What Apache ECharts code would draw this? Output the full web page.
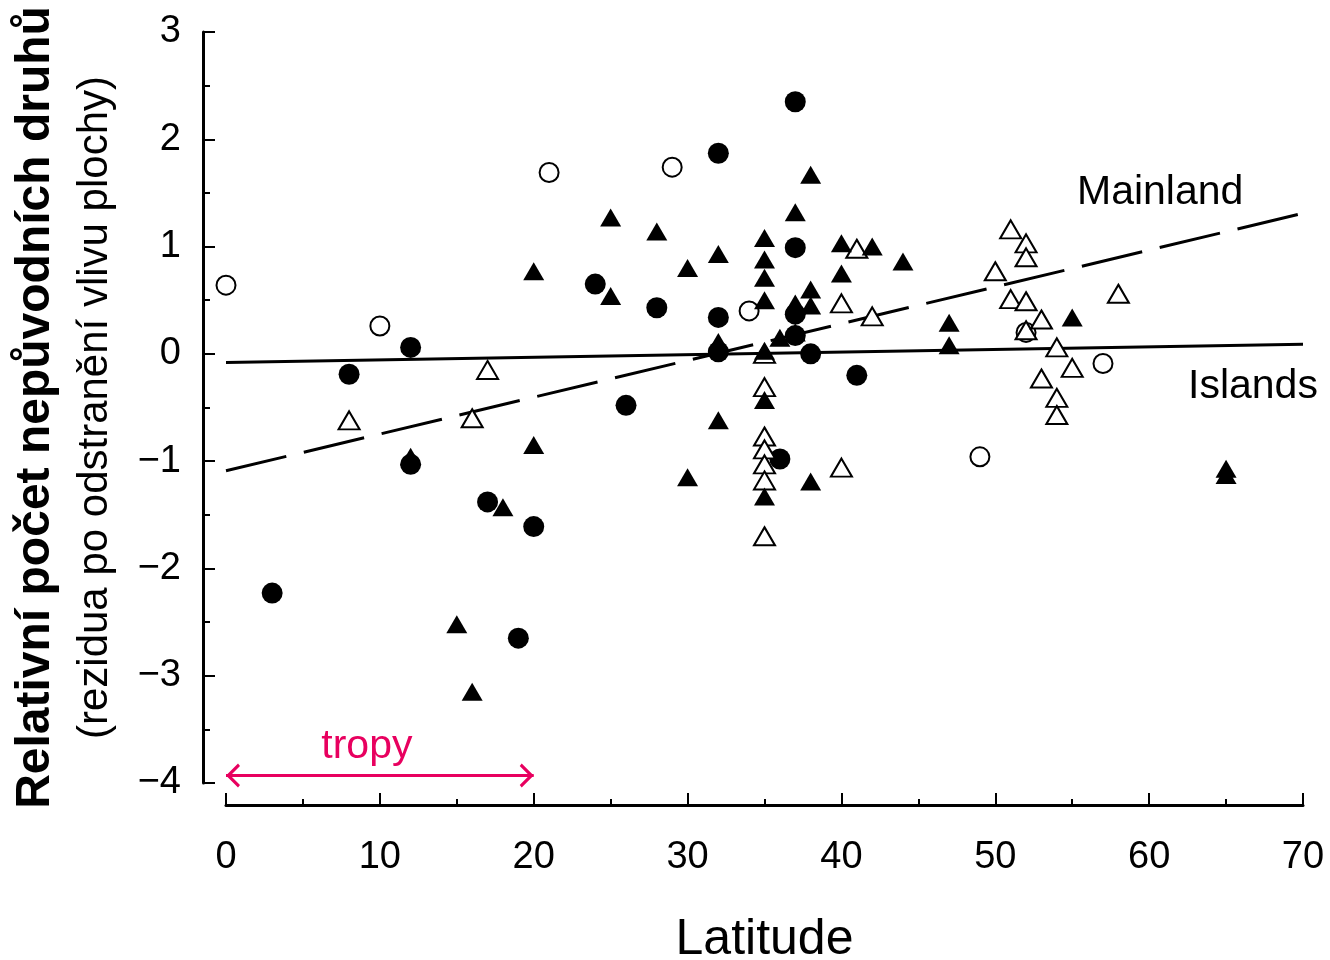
<!DOCTYPE html>
<html>
<head>
<meta charset="utf-8">
<script src="https://cdn.jsdelivr.net/npm/echarts@6/dist/echarts.min.js"></script>
<style>
  html, body { margin: 0; padding: 0; background: #fff; }
  #chart { width: 1330px; height: 960px; }
</style>
</head>
<body>
<div id="chart"></div>
<script>
// [latitude, residual]
const openCircles = [
  [0, 0.64], [10, 0.26], [21, 1.69], [29, 1.74], [34, 0.40],
  [52, 0.20], [57, -0.09], [49, -0.96]
];
const filledCircles = [
  [3, -2.23], [8, -0.19], [12, 0.06], [12, -1.03], [17, -1.38], [19, -2.65],
  [20, -1.61], [24, 0.65], [26, -0.48], [28, 0.43], [32, 1.87], [32, 0.34],
  [32, 0.02], [36, -0.98], [37, 2.35], [37, 0.99], [37, 0.37], [37, 0.17],
  [38, 0.0], [41, -0.20]
];
const openTriangles = [
  [8, -0.62], [16, -0.60], [17, -0.15], [35, 0.0], [35, -0.31], [35, -0.77],
  [35, -0.89], [35, -1.03], [35, -1.18], [35, -1.70], [40, 0.47], [40, -1.06],
  [41, 0.98], [42, 0.35], [50, 0.77], [51, 1.16], [51, 0.51], [52, 1.03],
  [52, 0.90], [52, 0.49], [52, 0.22], [53, 0.32], [53, -0.23], [54, 0.06],
  [54, -0.41], [54, -0.57], [55, -0.13], [58, 0.56]
];
const filledTriangles = [
  [12, -0.96], [15, -2.52], [16, -3.15], [18, -1.43], [20, 0.77], [20, -0.85],
  [25, 1.27], [25, 0.54], [28, 1.14], [30, 0.80], [30, -1.15], [32, 0.93],
  [32, 0.11], [32, -0.62], [35, 1.08], [35, 0.88], [35, 0.71], [35, 0.50],
  [35, 0.03], [35, -0.43], [35, -1.33], [36, 0.15], [37, 1.32], [37, 0.47],
  [37, 0.20], [38, 1.67], [38, 0.60], [38, 0.45], [38, -1.19], [40, 1.03],
  [40, 0.75], [42, 1.00], [44, 0.86], [47, 0.29], [47, 0.08], [55, 0.34],
  [65, -1.07], [65, -1.13]
];
const mainlandLine = [[0, -1.09], [70, 1.31]];
const islandsLine = [[0, -0.08], [70, 0.09]];
const tropics = [0, 20];
const tropicsY = -3.93;

const font = 'Liberation Sans, Arial, sans-serif';
const pink = '#e8005f';
// open chevron, tip at the symbol centre (tiny dot above only widens the box)
const chevron = 'path://M0,0 L12,12 L9.5,14 L0,4.5 L-9.5,14 L-12,12 Z M0,-14 L0.01,-14 L0,-13.99 Z';

let myChart = echarts.init(document.getElementById('chart'));
let option = {
  backgroundColor: '#fff',
  animation: false,
  grid: { left: 226, right: 27, top: 32, bottom: 177, outerBoundsMode: 'none', containLabel: false },
  xAxis: {
    type: 'value',
    min: 0, max: 70, interval: 10,
    offset: 22,
    name: 'Latitude',
    nameLocation: 'middle',
    nameGap: 110,
    nameTextStyle: { fontFamily: font, fontSize: 50, color: '#000' },
    axisLine: { onZero: false, lineStyle: { color: '#000', width: 3 } },
    axisTick: { inside: true, length: 12, lineStyle: { color: '#000', width: 2 } },
    minorTick: { show: true, splitNumber: 2, length: 6, lineStyle: { color: '#000', width: 2 } },
    axisLabel: { fontFamily: font, fontSize: 38, color: '#000', margin: 34 },
    splitLine: { show: false }
  },
  yAxis: {
    type: 'value',
    min: -4, max: 3, interval: 1,
    offset: 23,
    name: '{a|Relativní počet nepůvodních druhů}\n{b|(rezidua po odstranění vlivu plochy)}',
    nameLocation: 'middle',
    nameRotate: 90,
    nameGap: 83,
    nameTextStyle: {
      fontFamily: font, color: '#000',
      rich: {
        a: { fontFamily: font, fontSize: 48, fontWeight: 'bold', color: '#000', lineHeight: 68 },
        b: { fontFamily: font, fontSize: 42, color: '#000', lineHeight: 50 }
      }
    },
    axisLine: { onZero: false, lineStyle: { color: '#000', width: 3 } },
    axisTick: { inside: true, length: 12, lineStyle: { color: '#000', width: 2 } },
    minorTick: { show: true, splitNumber: 2, length: 7, lineStyle: { color: '#000', width: 2 } },
    axisLabel: {
      fontFamily: font, fontSize: 38, color: '#000', margin: 22,
      formatter: v => String(v).replace('-', '\u2212')
    },
    splitLine: { show: false }
  },
  graphic: [
    { type: 'text', left: 1077, top: 172, style: { text: 'Mainland', font: '41px ' + font, fill: '#000' } },
    { type: 'text', left: 1188, top: 366, style: { text: 'Islands', font: '41px ' + font, fill: '#000' } }
  ],
  series: [
    {
      name: 'Mainland',
      type: 'line',
      data: mainlandLine,
      symbol: 'none',
      lineStyle: { color: '#000', width: 3, type: [62, 18] },
      z: 1
    },
    {
      name: 'Islands',
      type: 'line',
      data: islandsLine,
      symbol: 'none',
      lineStyle: { color: '#000', width: 3 },
      z: 1,
      markLine: {
        silent: true,
        symbol: [chevron, chevron],
        symbolSize: [24, 28],
        lineStyle: { color: pink, width: 3, type: 'solid' },
        label: {
          show: true, position: 'insideMiddleTop', formatter: 'tropy',
          fontFamily: font, fontSize: 41, color: pink, distance: 8, offset: [-13, 0]
        },
        data: [[{ coord: [tropics[0], tropicsY] }, { coord: [tropics[1], tropicsY] }]]
      }
    },
    {
      name: 'open circles',
      type: 'scatter',
      data: openCircles,
      symbol: 'circle',
      symbolSize: 19,
      itemStyle: { color: '#fff', borderColor: '#000', borderWidth: 2, opacity: 1 },
      z: 3
    },
    {
      name: 'filled circles',
      type: 'scatter',
      data: filledCircles,
      symbol: 'circle',
      symbolSize: 21,
      itemStyle: { color: '#000', opacity: 1 },
      z: 3
    },
    {
      name: 'open triangles',
      type: 'scatter',
      data: openTriangles,
      symbol: 'triangle',
      symbolSize: [21, 18],
      itemStyle: { color: '#fff', borderColor: '#000', borderWidth: 2, opacity: 1 },
      z: 3
    },
    {
      name: 'filled triangles',
      type: 'scatter',
      data: filledTriangles,
      symbol: 'triangle',
      symbolSize: [21, 18],
      itemStyle: { color: '#000', opacity: 1 },
      z: 4
    }
  ]
};
myChart.setOption(option);
window.onresize = function() {
  myChart.resize();
};
</script>
</body>
</html>
